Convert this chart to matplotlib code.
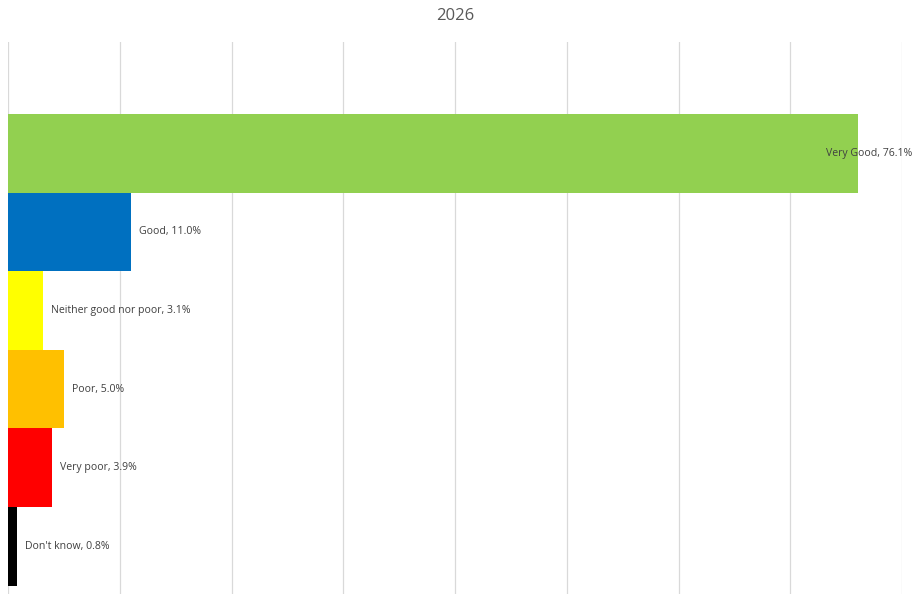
import matplotlib.pyplot as plt
import matplotlib.transforms as mtransforms

categories = ["Very Good", "Good", "Neither good nor poor", "Poor", "Very poor", "Don't know"]
values = [76.1, 11.0, 3.1, 5.0, 3.9, 0.8]
colors = ["#92D050", "#0070C0", "#FFFF00", "#FFC000", "#FF0000", "#000000"]
xticks = [0, 10, 20, 30, 40, 50, 60, 70, 80]

plt.rcParams['font.family'] = ['Open Sans', 'DejaVu Sans']

W, H = 917, 594
fig = plt.figure(figsize=(W / 100, H / 100), dpi=100)
ax = fig.add_axes([8 / W, 0, (902 - 8) / W, (594 - 42) / H])

pos = list(range(len(categories)))
ax.barh(pos, values, height=1.0, color=colors, zorder=2)
ax.set_xlim(0, 80)
ax.set_ylim(5.605, -1.415)
ax.set_xticks(xticks)
ax.set_yticks([])
ax.tick_params(axis='x', length=0, labelbottom=False)
ax.grid(axis='x', color='#D9D9D9', linewidth=0.9, zorder=0)
for s in ax.spines.values():
    s.set_visible(False)

# the long bar's label gets pulled back inside the figure, like excel does
fig_x = mtransforms.blended_transform_factory(fig.transFigure, ax.transData)
for i, (cat, v) in enumerate(zip(categories, values)):
    label = f"{cat}, {v:.1f}%"
    if v > 70:
        ax.annotate(label, xy=(1, i), xycoords=fig_x, xytext=(-5, 0),
                    textcoords='offset pixels', ha='right', va='center',
                    fontsize=7.6, color='#404040', zorder=3)
    else:
        ax.annotate(label, xy=(v, i), xytext=(8, 0), textcoords='offset pixels',
                    ha='left', va='center', fontsize=7.6, color='#404040', zorder=3)

fig.text(455 / W, 1 - 16 / H, "2026", ha='center', va='center', fontsize=12, color='#595959')

fig.savefig("out.png", dpi=100)
